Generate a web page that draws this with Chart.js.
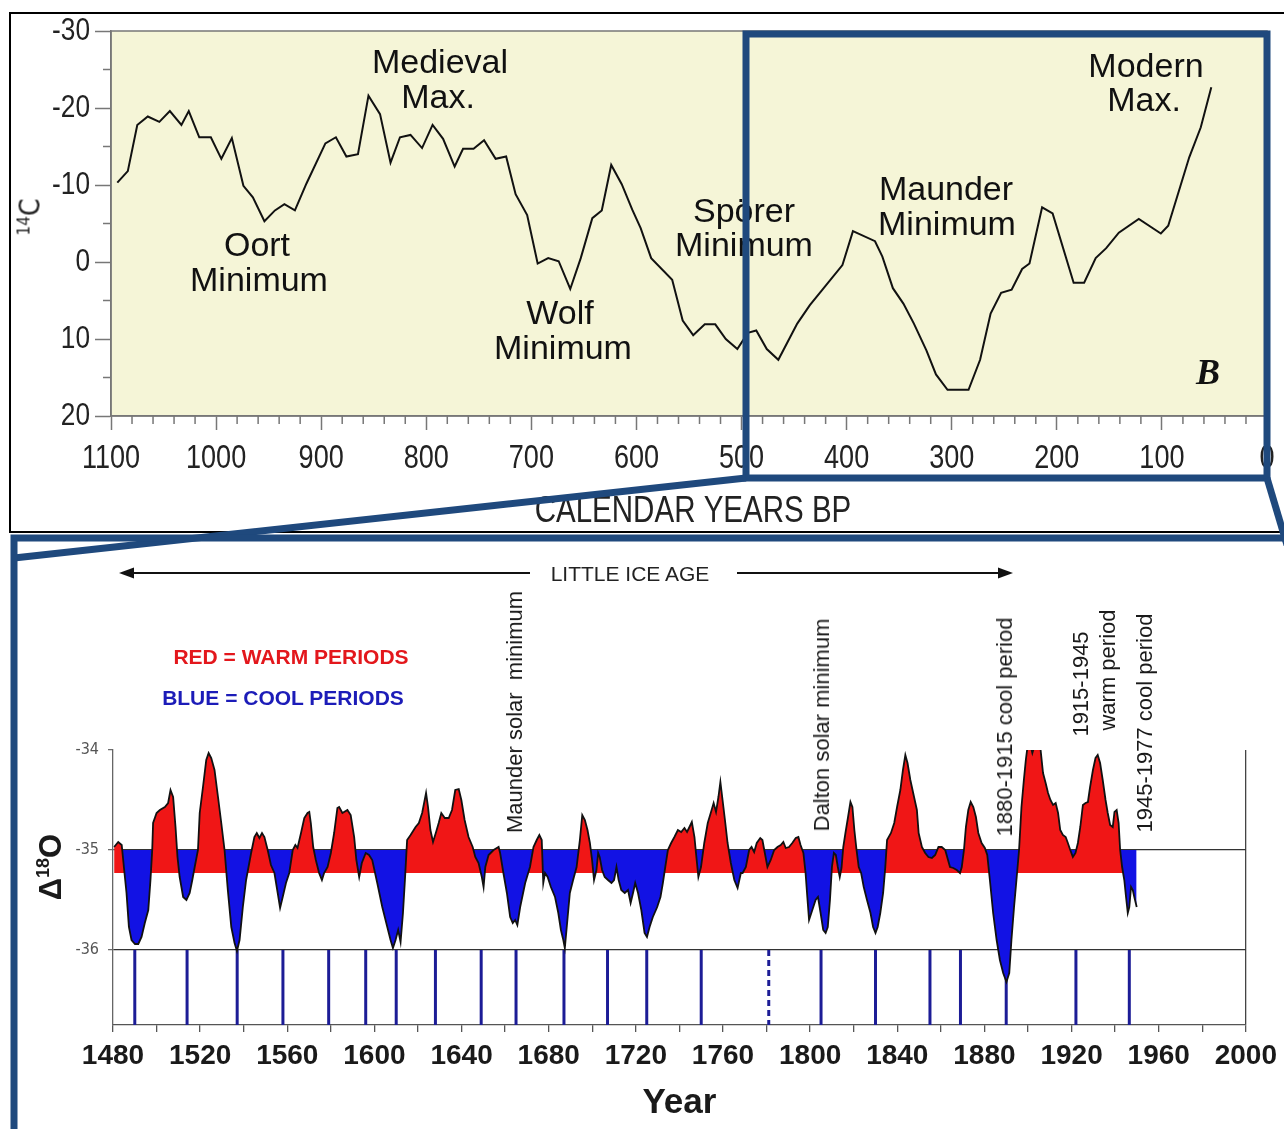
<!DOCTYPE html>
<html><head><meta charset="utf-8"><title>14C and Delta 18O</title>
<script src="https://cdn.jsdelivr.net/npm/chart.js@4.4.1/dist/chart.umd.min.js"></script>
<style>
html,body{margin:0;padding:0;background:#fff;}
#page{position:relative;width:1284px;height:1129px;overflow:hidden;background:#fff;}
#page canvas{position:absolute;left:0;top:0;}
.t{position:absolute;white-space:pre;line-height:1;transform:translate(-50%,-50%);color:#111;font-family:'Liberation Sans',Arial,sans-serif;}
.r{transform:translate(-50%,-50%) rotate(-90deg);}
.ann{font-size:34px;}
.vl{font-size:22px;color:#1a1a1a;}
svg{position:absolute;left:0;top:0;}
</style></head>
<body><div id="page">
<canvas id="cTop" width="1284" height="1129"></canvas>
<canvas id="cBot" width="1284" height="1129"></canvas>

<div class="t ann" style="left:440px;top:61px">Medieval</div>
<div class="t ann" style="left:438px;top:96px">Max.</div>
<div class="t ann" style="left:257px;top:244px">Oort</div>
<div class="t ann" style="left:259px;top:279px">Minimum</div>
<div class="t ann" style="left:560px;top:312px">Wolf</div>
<div class="t ann" style="left:563px;top:347px">Minimum</div>
<div class="t ann" style="left:744px;top:210px">Spörer</div>
<div class="t ann" style="left:744px;top:244px">Minimum</div>
<div class="t ann" style="left:946px;top:188px">Maunder</div>
<div class="t ann" style="left:947px;top:223px">Minimum</div>
<div class="t ann" style="left:1146px;top:65px">Modern</div>
<div class="t ann" style="left:1144px;top:99px">Max.</div>
<div class="t" style="left:1208px;top:372px;font:italic bold 36px 'Liberation Serif','DejaVu Serif',serif;">B</div>
<div class="t r" style="left:30px;top:217px;font-size:28px;font-family:'DejaVu Sans Condensed',sans-serif;color:#222"><span style="font-size:17px;vertical-align:10px">14</span>C</div>

<div class="t" style="left:630px;top:573px;font-size:21px;color:#222">LITTLE ICE AGE</div>
<div class="t" style="left:291px;top:656px;font-size:21px;font-weight:bold;color:#e3171c">RED = WARM PERIODS</div>
<div class="t" style="left:283px;top:697px;font-size:21px;font-weight:bold;color:#1c1cb8">BLUE = COOL PERIODS</div>
<div class="t r vl" style="left:515px;top:712px">Maunder solar  minimum</div>
<div class="t r vl" style="left:822px;top:725px">Dalton solar minimum</div>
<div class="t r vl" style="left:1005px;top:727px">1880-1915 cool period</div>
<div class="t r vl" style="left:1081px;top:684px">1915-1945</div>
<div class="t r vl" style="left:1108px;top:670px">warm period</div>
<div class="t r vl" style="left:1145px;top:723px">1945-1977 cool period</div>
<div class="t r" style="left:50px;top:867px;font-size:31px;font-weight:bold;color:#1a1a1a">Δ<span style="font-size:18px;vertical-align:12px">18</span>O</div>

<svg width="1284" height="1129">
 <polyline points="1290,13 10,13 10,532 1290,532" stroke="#000" stroke-width="2" fill="none"/>
 <line x1="130" y1="573" x2="530" y2="573" stroke="#111" stroke-width="2"/>
 <polygon points="119,573 134,567.5 134,578.5" fill="#111"/>
 <line x1="737" y1="573" x2="1002" y2="573" stroke="#111" stroke-width="2"/>
 <polygon points="1013,573 998,567.5 998,578.5" fill="#111"/>
 <g stroke="#1f497d" stroke-width="7" fill="none">
  <rect x="746" y="34" width="521" height="444"/>
  <line x1="746" y1="478" x2="14" y2="558"/>
  <line x1="1267" y1="478" x2="1287" y2="545"/>
  <polyline points="1292,538 14,538 14,1140"/>
 </g>
</svg>
</div>
<script>
const SANS = "'Liberation Sans',Arial,sans-serif";
const NARROW = "'DejaVu Sans Condensed',sans-serif";
const SQUEEZE = 0.82; // Arial-Narrow look for the top panel labels

// ---- Top panel: 14C (calendar years BP) ----
const c14YearsBP = [1094,1084,1075,1065,1054,1044,1033,1026,1016,1005,
  995,985,974,965,954,944,935,925,914,896,
  886,876,865,855,844,834,825,815,804,794,
  784,773,765,755,745,734,724,715,704,694,
  684,674,663,653,642,633,624,614,604,596,
  586,566,556,546,535,525,515,504,494,486,
  476,465,447,435,404,394,373,366,356,346,
  336,324,315,304,284,273,263,253,243,233,
  226,214,204,184,174,163,153,141,122,101,
  94,74,63,53];
const c14Values = [-10.3,-11.8,-17.8,-18.9,-18.2,-19.6,-17.8,-19.6,-16.2,-16.2,
  -13.4,-16.1,-9.9,-8.4,-5.3,-6.7,-7.5,-6.7,-10.2,-15.4,
  -16.2,-13.7,-14.0,-21.6,-19.2,-12.9,-16.2,-16.5,-14.8,-17.8,
  -16.0,-12.4,-14.7,-14.7,-15.8,-13.4,-13.7,-8.8,-6.1,0.2,
  -0.5,-0.1,3.5,-0.5,-5.7,-6.7,-12.6,-10.1,-6.8,-4.4,
  -0.5,2.3,7.6,9.5,8.1,8.1,10.0,11.3,9.2,8.9,
  11.3,12.7,8.0,5.6,0.4,-4.0,-2.7,-0.7,3.4,5.4,
  8.0,11.5,14.6,16.6,16.6,12.7,6.7,4.0,3.6,0.9,
  0.2,-7.1,-6.3,2.7,2.7,-0.5,-1.8,-3.8,-5.6,-3.7,
  -4.7,-13.6,-17.5,-22.7];
const c14YTicks = [-30,-20,-10,0,10,20];
const c14XTicks = [0,100,200,300,400,500,600,700,800,900,1000,1100];
const c14XTitle = 'CALENDAR YEARS BP';

// ---- Bottom panel: Delta 18O ----
const o18Years = [1480.5,1482.4,1484.0,1485.0,1486.2,1487.3,1488.5,1490.1,1491.6,1493.1,
  1494.6,1496.2,1497.2,1498.0,1498.4,1500.0,1501.5,1503.8,1505.3,1506.4,
  1507.6,1508.7,1509.6,1510.6,1512.2,1513.7,1515.2,1516.4,1517.5,1519.0,
  1519.8,1521.3,1522.8,1523.9,1525.1,1526.6,1528.2,1529.7,1531.2,1532.7,
  1534.3,1535.8,1536.9,1538.1,1539.6,1541.1,1543.4,1544.9,1546.0,1547.2,
  1548.4,1549.5,1551.0,1552.5,1554.1,1555.6,1556.7,1557.9,1559.4,1560.9,
  1562.5,1563.7,1564.7,1566.3,1567.8,1569.3,1570.1,1570.8,1571.9,1573.1,
  1574.6,1575.9,1576.9,1578.5,1580.0,1581.5,1583.0,1583.8,1585.3,1587.6,
  1589.1,1590.7,1591.7,1593.0,1594.2,1596.0,1597.5,1599.0,1601.3,1603.6,
  1605.9,1607.4,1608.5,1609.7,1610.9,1612.0,1613.1,1614.0,1615.0,1616.6,
  1618.9,1620.4,1621.9,1623.7,1624.6,1625.7,1626.9,1628.3,1629.5,1630.7,
  1632.3,1634.1,1635.6,1637.1,1638.7,1639.9,1641.4,1643.2,1645.1,1646.3,
  1647.8,1649.3,1650.1,1650.9,1652.4,1654.7,1657.0,1657.7,1659.2,1660.8,
  1662.3,1663.5,1664.6,1665.6,1666.9,1669.2,1671.4,1673.0,1674.5,1675.7,
  1676.8,1677.5,1678.3,1679.5,1681.0,1682.9,1684.4,1685.6,1686.7,1687.4,
  1688.7,1689.7,1691.2,1692.8,1694.3,1695.4,1696.6,1697.8,1698.9,1699.9,
  1700.8,1701.9,1702.7,1703.4,1704.5,1705.7,1707.2,1708.8,1710.0,1711.1,
  1712.1,1713.3,1714.9,1716.4,1717.6,1718.7,1719.7,1721.0,1722.5,1724.0,
  1725.1,1726.3,1727.8,1729.8,1731.3,1732.4,1733.5,1734.7,1736.2,1737.7,
  1739.3,1740.8,1742.3,1743.5,1744.6,1745.7,1746.9,1747.6,1748.7,1749.9,
  1751.4,1753.0,1754.5,1755.7,1756.8,1757.9,1758.8,1759.8,1760.9,1762.1,
  1763.6,1765.2,1766.7,1768.2,1769.0,1770.5,1772.0,1773.1,1774.3,1775.5,
  1777.1,1778.1,1779.2,1780.4,1781.9,1783.5,1785.0,1786.5,1787.7,1788.8,
  1790.3,1791.8,1793.4,1794.6,1795.6,1796.9,1797.9,1798.7,1799.5,1801.0,
  1802.5,1803.6,1804.8,1806.0,1807.1,1808.1,1809.1,1810.0,1810.9,1811.8,
  1812.7,1813.6,1814.4,1815.2,1816.2,1817.4,1818.5,1819.4,1820.3,1821.3,
  1822.3,1823.4,1824.6,1826.1,1827.7,1828.9,1830.0,1831.0,1832.2,1833.5,
  1834.5,1835.3,1837.1,1838.6,1839.9,1841.4,1842.6,1843.7,1844.7,1846.0,
  1847.5,1849.0,1849.8,1851.3,1852.8,1854.3,1855.9,1857.4,1858.9,1860.4,
  1862.0,1864.2,1865.7,1867.3,1868.8,1869.6,1870.6,1871.5,1872.6,1873.7,
  1874.9,1876.1,1877.2,1878.7,1880.2,1881.3,1882.5,1884.0,1885.6,1887.1,
  1888.6,1890.1,1891.4,1892.4,1893.6,1894.7,1895.9,1897.0,1898.1,1899.0,
  1899.7,1900.8,1902.0,1903.1,1905.4,1906.9,1908.1,1909.2,1910.3,1911.5,
  1912.7,1913.8,1914.8,1916.0,1917.3,1918.3,1919.4,1920.6,1921.8,1922.9,
  1924.0,1925.2,1926.4,1927.5,1928.5,1929.8,1931.0,1932.0,1933.1,1934.3,
  1935.6,1936.6,1937.7,1938.9,1939.7,1940.7,1941.6,1942.3,1943.2,1944.2,
  1945.0,1945.8,1946.5,1947.3,1948.1,1948.8,1949.9];
const o18Values = [-34.97,-34.92,-34.95,-35.17,-35.43,-35.77,-35.90,-35.94,-35.94,-35.87,
  -35.73,-35.60,-35.30,-35.00,-34.73,-34.63,-34.60,-34.57,-34.53,-34.40,
  -34.47,-34.77,-35.07,-35.27,-35.47,-35.50,-35.43,-35.30,-35.17,-35.00,
  -34.63,-34.37,-34.10,-34.03,-34.08,-34.20,-34.47,-34.73,-35.00,-35.40,
  -35.77,-35.93,-36.01,-35.90,-35.57,-35.30,-35.03,-34.87,-34.83,-34.88,
  -34.83,-34.87,-35.00,-35.15,-35.23,-35.43,-35.58,-35.47,-35.33,-35.23,
  -35.00,-34.95,-34.98,-34.83,-34.68,-34.63,-34.62,-34.73,-34.97,-35.10,
  -35.23,-35.30,-35.23,-35.17,-35.03,-34.83,-34.58,-34.57,-34.63,-34.60,
  -34.65,-34.87,-35.10,-35.27,-35.13,-35.03,-35.05,-35.10,-35.33,-35.57,
  -35.77,-35.90,-35.98,-35.90,-35.80,-35.92,-35.63,-35.30,-34.90,-34.85,
  -34.77,-34.73,-34.63,-34.43,-34.57,-34.80,-34.92,-34.82,-34.73,-34.63,
  -34.68,-34.68,-34.60,-34.40,-34.39,-34.50,-34.70,-34.87,-34.97,-35.07,
  -35.13,-35.27,-35.37,-35.17,-35.05,-35.00,-34.97,-35.03,-35.23,-35.43,
  -35.67,-35.73,-35.70,-35.75,-35.57,-35.33,-35.17,-34.97,-34.90,-34.85,
  -34.90,-35.33,-35.23,-35.27,-35.37,-35.47,-35.63,-35.80,-35.90,-35.98,
  -35.67,-35.43,-35.30,-35.17,-34.90,-34.65,-34.70,-34.80,-34.93,-35.10,
  -35.30,-35.20,-35.03,-35.07,-35.20,-35.27,-35.30,-35.33,-35.30,-35.17,
  -35.30,-35.40,-35.43,-35.40,-35.53,-35.43,-35.33,-35.43,-35.60,-35.83,
  -35.87,-35.77,-35.67,-35.57,-35.47,-35.33,-35.17,-35.00,-34.93,-34.87,
  -34.80,-34.82,-34.78,-34.82,-34.77,-34.72,-34.87,-35.03,-35.27,-35.17,
  -34.93,-34.73,-34.62,-34.53,-34.62,-34.47,-34.32,-34.50,-34.70,-34.93,
  -35.13,-35.30,-35.38,-35.23,-35.23,-35.17,-35.00,-34.97,-35.02,-34.93,
  -34.88,-34.90,-35.03,-35.17,-35.10,-35.00,-34.97,-34.95,-34.92,-34.98,
  -34.97,-34.93,-34.88,-34.87,-34.95,-35.03,-35.23,-35.47,-35.70,-35.60,
  -35.50,-35.47,-35.63,-35.80,-35.83,-35.77,-35.50,-35.17,-35.03,-35.05,
  -35.17,-35.27,-35.18,-34.97,-34.83,-34.67,-34.52,-34.57,-34.80,-35.00,
  -35.17,-35.23,-35.37,-35.50,-35.63,-35.77,-35.83,-35.77,-35.63,-35.43,
  -35.17,-34.90,-34.83,-34.73,-34.57,-34.40,-34.20,-34.05,-34.13,-34.30,
  -34.45,-34.60,-34.83,-34.97,-35.03,-35.07,-35.08,-35.05,-34.97,-34.97,
  -35.00,-35.17,-35.18,-35.20,-35.23,-35.17,-35.00,-34.77,-34.60,-34.52,
  -34.57,-34.67,-34.83,-34.93,-34.98,-35.05,-35.30,-35.63,-35.90,-36.10,
  -36.23,-36.32,-36.23,-35.90,-35.57,-35.30,-35.00,-34.57,-34.30,-34.10,
  -33.98,-33.92,-34.03,-33.95,-33.92,-34.23,-34.33,-34.43,-34.50,-34.55,
  -34.53,-34.63,-34.80,-34.85,-34.87,-34.93,-35.00,-35.07,-35.03,-34.93,
  -34.77,-34.55,-34.53,-34.52,-34.37,-34.20,-34.08,-34.05,-34.13,-34.30,
  -34.50,-34.63,-34.75,-34.77,-34.62,-34.60,-34.73,-35.00,-35.17,-35.30,
  -35.47,-35.63,-35.57,-35.37,-35.40,-35.47,-35.57];
const o18CoolBase = -35.0;   // blue fills below this level
const o18WarmBase = -35.23;  // red fills above this level
const o18YTicks = [-36,-35,-34];
const cycleYears = [1490,1514,1537,1558,1579,1596,1610,1628,1649,1665,1687,1707,1725,1750,1805,1830,1855,1869,1890,1922,1946.5];
const cycleYearsDashed = [1781];

const RED = '#f01616', BLUE = '#1212e4', NAVY = '#1c1c96', CREAM = '#f5f5d7';

// ---------- plugins ----------
const creamBg = {id:'creamBg', beforeDraw(c){const a=c.chartArea,x=c.ctx;x.save();x.fillStyle=CREAM;x.fillRect(a.left,a.top,a.right-a.left,a.bottom-a.top);x.restore();}};
function squeezedText(ctx,txt,px,py,align){ctx.save();ctx.translate(px,py);ctx.scale(SQUEEZE,1);ctx.textAlign=align;ctx.fillText(txt,0,0);ctx.restore();}
const topDecor = {id:'topDecor', afterDraw(c){
  const a=c.chartArea,x=c.ctx,sx=c.scales.x,sy=c.scales.y;
  x.save();x.strokeStyle='#777';x.lineWidth=1.5;
  x.strokeRect(a.left,a.top,a.right-a.left,a.bottom-a.top);
  x.beginPath();
  for(let v=-25;v<20;v+=10){const p=sy.getPixelForValue(v);x.moveTo(a.left-8,p);x.lineTo(a.left,p);}
  for(let v=20;v<1100;v+=20){if(v%100===0)continue;const p=sx.getPixelForValue(v);x.moveTo(p,a.bottom);x.lineTo(p,a.bottom+8);}
  x.stroke();
  x.fillStyle='#222';x.textBaseline='middle';
  x.font="33px "+SANS;
  c14XTicks.forEach(v=>squeezedText(x,String(v),sx.getPixelForValue(v),a.bottom+43,'center'));
  x.font="32px "+SANS;
  c14YTicks.forEach(v=>squeezedText(x,String(v),a.left-21,sy.getPixelForValue(v),'right'));
  x.font="36px "+SANS;
  squeezedText(x,c14XTitle,(a.left+a.right)/2+4,sx.bottom-20,'center');
  x.restore();}};

new Chart(document.getElementById('cTop'),{
  type:'line',
  data:{datasets:[{data:c14YearsBP.map((yr,i)=>({x:yr,y:c14Values[i]})),borderColor:'#111',borderWidth:2,pointRadius:0,tension:0,fill:false}]},
  options:{responsive:false,animation:false,events:[],
    layout:{padding:{left:0,top:31,right:17,bottom:597}},
    plugins:{legend:{display:false},tooltip:{enabled:false}},
    scales:{
      x:{type:'linear',min:0,max:1100,reverse:true,
        afterFit(s){s.height=116;},
        afterBuildTicks(s){s.ticks=c14XTicks.map(v=>({value:v}));},
        ticks:{display:false},
        grid:{drawOnChartArea:false,tickLength:14,tickColor:'#777',tickWidth:1.5},
        border:{color:'#777',width:1.5}},
      y:{type:'linear',min:-30,max:20,reverse:true,
        afterFit(s){s.width=111;},
        afterBuildTicks(s){s.ticks=c14YTicks.map(v=>({value:v}));},
        ticks:{display:false},
        grid:{drawOnChartArea:false,tickLength:16,tickColor:'#777',tickWidth:1.5},
        border:{color:'#777',width:1.5}}
    }},
  plugins:[creamBg,topDecor]
});

const o18Data = o18Years.map((yr,i)=>({x:yr,y:o18Values[i]}));
const cycleData = cycleYears.flatMap(yr=>[{x:yr,y:o18YTicks[0]},{x:yr,y:-36.75},{x:yr,y:null}]);
const cycleDashedData = cycleYearsDashed.flatMap(yr=>[{x:yr,y:o18YTicks[0]},{x:yr,y:-36.75},{x:yr,y:null}]);
const clear='rgba(0,0,0,0)';

new Chart(document.getElementById('cBot'),{
  type:'line',
  data:{datasets:[
    {label:'Delta 18O',data:o18Data,borderColor:'#111',borderWidth:1.8,pointRadius:0,tension:0,fill:false},
    {label:'cool',data:o18Data,borderColor:clear,borderWidth:0,pointRadius:0,tension:0,fill:{target:{value:o18CoolBase},above:clear,below:BLUE}},
    {label:'warm',data:o18Data,borderColor:clear,borderWidth:0,pointRadius:0,tension:0,fill:{target:{value:o18WarmBase},above:RED,below:clear}},
    {label:'cycles',data:cycleData,borderColor:NAVY,borderWidth:3,pointRadius:0,spanGaps:false,fill:false},
    {label:'cycles dashed',data:cycleDashedData,borderColor:NAVY,borderWidth:3,borderDash:[6,4],pointRadius:0,spanGaps:false,fill:false}
  ]},
  options:{responsive:false,animation:false,events:[],
    layout:{padding:{left:0,top:750,right:34,bottom:0}},
    plugins:{legend:{display:false},tooltip:{enabled:false}},
    scales:{
      x:{type:'linear',min:1480,max:2000,
        afterFit(s){s.height=104;},
        ticks:{stepSize:20,font:{family:SANS,size:28,weight:'bold'},color:'#1a1a1a',padding:7,maxRotation:0,autoSkip:false,
          callback:v=>((v-1480)%40===0?String(v):'')},
        grid:{drawOnChartArea:true,color:c=>(c.tick&&c.tick.value===2000?'#444':clear),lineWidth:1.3,tickLength:7,tickColor:'#555',tickWidth:1.3},
        border:{color:'#555',width:1.3},
        title:{display:true,text:'Year',font:{family:SANS,size:35,weight:'bold'},color:'#1a1a1a',padding:{top:0,bottom:5}}},
      y:{type:'linear',min:-36.75,max:-34,
        afterFit(s){s.width=113;},
        afterBuildTicks(s){s.ticks=o18YTicks.map(v=>({value:v}));},
        ticks:{font:{family:NARROW,size:16},color:'#555',padding:9,callback:v=>String(v)},
        grid:{drawOnChartArea:true,color:c=>(c.tick&&(c.tick.value===-35||c.tick.value===-36)?'#333':clear),lineWidth:1.3,tickLength:5,tickColor:'#666',tickWidth:1.2},
        border:{color:'#666',width:1.3}}
    }}
});
</script>
</body></html>
